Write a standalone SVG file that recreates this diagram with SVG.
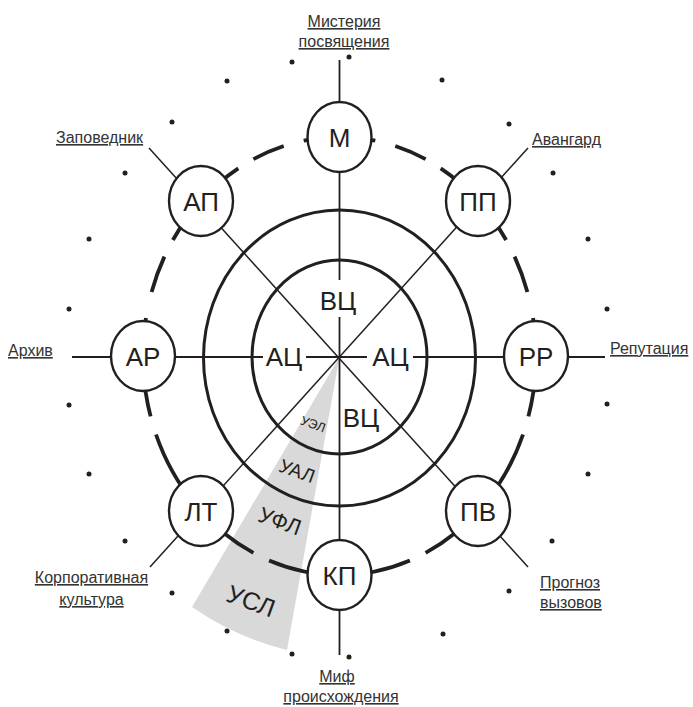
<svg xmlns="http://www.w3.org/2000/svg" width="693" height="707" viewBox="0 0 693 707">
<style>
text{font-family:"Liberation Sans",Arial,sans-serif;fill:#231f20}
.nl{font-size:26px;text-anchor:middle}
.lb{font-size:16px;fill:#333;text-decoration:underline}
.mid{text-anchor:middle}
.ring{fill:none;stroke:#231f20;stroke-width:3}
.dash{fill:none;stroke:#231f20;stroke-width:3.8}
.ax{stroke:#231f20;stroke-width:1.8;fill:none}
.dg{stroke:#231f20;stroke-width:1.5;fill:none}
.node ellipse{fill:#fff;stroke:#231f20;stroke-width:2.4}
.dot{fill:#231f20}
.sl{text-anchor:middle}
</style>
<rect width="693" height="707" fill="#fff"/>
<g id="sector">
<path d="M339.5,357 L192,607 A290 300 0 0 0 287,650 Z" fill="#d9d9d9"/>
<text class="sl" font-size="13" x="313" y="428.5" transform="rotate(20 313 424)">УЭЛ</text>
<text class="sl" font-size="19" x="297" y="477.5" transform="rotate(20 297 471)">УАЛ</text>
<text class="sl" font-size="22" x="280" y="528.7" transform="rotate(20 280 521)">УФЛ</text>
<text class="sl" font-size="25" x="251" y="609.7" transform="rotate(20 251 601)">УСЛ</text>
</g>
<g id="rings">
<ellipse class="ring" cx="339.5" cy="357" rx="87.5" ry="97"/>
<ellipse class="ring" cx="339.5" cy="358" rx="136" ry="148"/>
</g>
<g id="dashed-ring">
<path class="dash" d="M303.7,140.7 A196.5 219 0 0 1 375.3,140.7"/>
<path class="dash" d="M395.3,146.0 A196.5 219 0 0 1 425.6,159.2"/>
<path class="dash" d="M440.7,168.3 A196.5 219 0 0 1 506.1,240.0"/>
<path class="dash" d="M514.6,256.6 A196.5 219 0 0 1 527.4,292.0"/>
<path class="dash" d="M533.0,318.0 A196.5 219 0 0 1 528.4,416.4"/>
<path class="dash" d="M523.0,434.5 A196.5 219 0 0 1 425.6,552.8"/>
<path class="dash" d="M409.9,560.5 A196.5 219 0 0 1 269.1,560.5"/>
<path class="dash" d="M253.4,552.8 A196.5 219 0 0 1 156.0,434.5"/>
<path class="dash" d="M150.6,416.4 A196.5 219 0 0 1 146.0,318.0"/>
<path class="dash" d="M151.6,292.0 A196.5 219 0 0 1 164.4,256.6"/>
<path class="dash" d="M172.9,240.0 A196.5 219 0 0 1 238.3,168.3"/>
<path class="dash" d="M253.4,159.2 A196.5 219 0 0 1 283.7,146.0"/>
</g>
<g id="connectors">
<path class="ax" d="M339.5,60 V280 M339.5,317 V655"/>
<path class="ax" d="M72,357 H263 M306,357 H367 M413,357 H605"/>
<path class="dg" d="M149,148 L528,567"/>
<path class="dg" d="M528,148 L150,567"/>
</g>
<g id="dots">
<circle class="dot" cx="292" cy="62" r="2.5"/>
<circle class="dot" cx="349" cy="57" r="2.5"/>
<circle class="dot" cx="442" cy="80" r="2.5"/>
<circle class="dot" cx="509" cy="124" r="2.5"/>
<circle class="dot" cx="553" cy="173" r="2.5"/>
<circle class="dot" cx="588" cy="239" r="2.5"/>
<circle class="dot" cx="607" cy="309" r="2.5"/>
<circle class="dot" cx="607" cy="404" r="2.5"/>
<circle class="dot" cx="588" cy="474" r="2.5"/>
<circle class="dot" cx="552" cy="541" r="2.5"/>
<circle class="dot" cx="509" cy="591" r="2.5"/>
<circle class="dot" cx="443" cy="634" r="2.5"/>
<circle class="dot" cx="349" cy="657" r="2.5"/>
<circle class="dot" cx="292" cy="654" r="2.5"/>
<circle class="dot" cx="227" cy="631" r="2.5"/>
<circle class="dot" cx="172" cy="593" r="2.5"/>
<circle class="dot" cx="125" cy="541" r="2.5"/>
<circle class="dot" cx="89" cy="474" r="2.5"/>
<circle class="dot" cx="69" cy="405" r="2.5"/>
<circle class="dot" cx="69" cy="309" r="2.5"/>
<circle class="dot" cx="89" cy="239" r="2.5"/>
<circle class="dot" cx="125" cy="173" r="2.5"/>
<circle class="dot" cx="172" cy="122" r="2.5"/>
<circle class="dot" cx="227" cy="81" r="2.5"/>
</g>
<g id="center-labels">
<text class="nl" x="338" y="310">ВЦ</text>
<text class="nl" x="361" y="427">ВЦ</text>
<text class="nl" x="284" y="366">АЦ</text>
<text class="nl" x="390.5" y="366">АЦ</text>
</g>
<g id="node-M" class="node"><ellipse cx="339.5" cy="137" rx="32" ry="35"/><text class="nl" x="339.5" y="146.5">М</text></g>
<g id="node-PP" class="node"><ellipse cx="478" cy="201" rx="32" ry="35"/><text class="nl" x="478" y="210.5">ПП</text></g>
<g id="node-RR" class="node"><ellipse cx="536" cy="356" rx="32" ry="35"/><text class="nl" x="536" y="365.5">РР</text></g>
<g id="node-PV" class="node"><ellipse cx="478" cy="511" rx="32" ry="35"/><text class="nl" x="478" y="520.5">ПВ</text></g>
<g id="node-KP" class="node"><ellipse cx="339.5" cy="575" rx="32" ry="35"/><text class="nl" x="339.5" y="584.5">КП</text></g>
<g id="node-LT" class="node"><ellipse cx="201" cy="511" rx="32" ry="35"/><text class="nl" x="201" y="520.5">ЛТ</text></g>
<g id="node-AR" class="node"><ellipse cx="143" cy="356" rx="32" ry="35"/><text class="nl" x="143" y="365.5">АР</text></g>
<g id="node-AP" class="node"><ellipse cx="201" cy="201" rx="32" ry="35"/><text class="nl" x="201" y="210.5">АП</text></g>
<g id="label-mystery"><text class="lb mid" x="344" y="27">Мистерия</text><text class="lb mid" x="344" y="47">посвящения</text></g>
<g id="label-reserve"><text class="lb" x="56" y="143">Заповедник</text></g>
<g id="label-avantgarde"><text class="lb" x="532" y="145">Авангард</text></g>
<g id="label-archive"><text class="lb" x="8" y="356">Архив</text></g>
<g id="label-reputation"><text class="lb" x="610" y="354">Репутация</text></g>
<g id="label-forecast"><text class="lb" x="540" y="588">Прогноз</text><text class="lb" x="540" y="608">вызовов</text></g>
<g id="label-corporate"><text class="lb mid" x="91.5" y="583">Корпоративная</text><text class="lb mid" x="91.5" y="605">культура</text></g>
<g id="label-myth"><text class="lb mid" x="337" y="682">Миф</text><text class="lb mid" x="341" y="702">происхождения</text></g>
</svg>
